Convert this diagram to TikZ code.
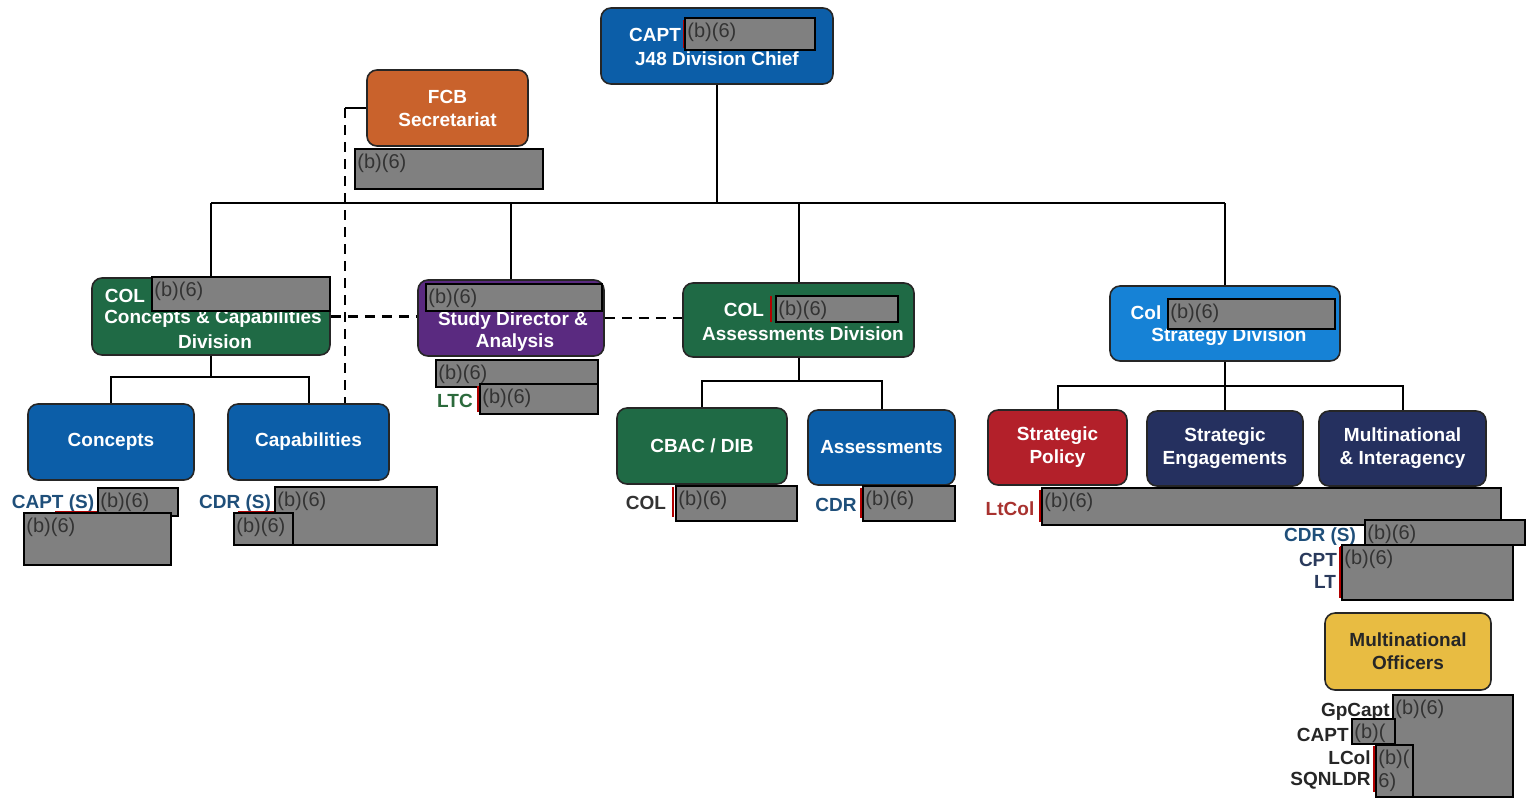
\documentclass[tikz,border=0pt]{standalone}
\usepackage{fontspec}
\setmainfont{Liberation Sans}
\usetikzlibrary{calc}
\definecolor{cblue}{HTML}{0C5EA8}
\definecolor{clblue}{HTML}{1682D6}
\definecolor{cgreen}{HTML}{1F6A45}
\definecolor{cpurple}{HTML}{5A2A80}
\definecolor{corange}{HTML}{C9622C}
\definecolor{cred}{HTML}{B3202A}
\definecolor{cnavy}{HTML}{25305F}
\definecolor{cyellow}{HTML}{E8BC42}
\definecolor{rgray}{HTML}{808080}
\definecolor{lblue}{HTML}{1F4F7A}
\definecolor{lred}{HTML}{A8322F}
\definecolor{lgreen}{HTML}{2C6A3C}
\definecolor{lnavy}{HTML}{2A3A5C}
\tikzset{
 orgbox/.style={draw=black!85, line width=0.8pt, rounded corners=5pt, text=white, font=\bfseries\fontsize{9.5}{11.5}\selectfont, align=center, inner sep=0pt},
 boxtxt/.style={text=white, font=\bfseries\fontsize{9.5}{11.5}\selectfont, inner sep=0pt},
 lbl/.style={font=\bfseries\fontsize{9.5}{11.5}\selectfont, inner sep=0pt, yshift=-1.5pt},
 redfill/.style={fill=rgray, draw=black, line width=0.8pt},
 redtxt/.style={font=\fontsize{10}{11.5}\selectfont, text=black!80, inner sep=1pt, anchor=north west, align=left, yshift=-1.5pt},
 redmark/.style={draw=red!70!black, line width=0.7pt},
 conn/.style={line width=1pt, draw=black},
 dashline/.style={line width=1.2pt, draw=black, dash pattern=on 5pt off 3.5pt},
}
\newcommand{\rdx}[6]{\draw[redfill] (#1,#2) rectangle (#3,#4); \node[redtxt] (#5) at (#1,#2) {#6};}
\begin{document}
\begin{tikzpicture}[x=0.5pt,y=-0.5pt]
\useasboundingbox (0,0) rectangle (1535,799);
\fill[white] (0,0) rectangle (1535,799);
% coordinates
\coordinate (bus) at (0,203);
\coordinate (dashx) at (345,0);
% ---- boxes ----
\node[orgbox, fill=cblue, minimum width=116pt, minimum height=38pt] (chief) at (717,46) {};
\node[orgbox, fill=corange, minimum width=80.5pt, minimum height=38pt] (fcb) at (447.5,108) {FCB\\Secretariat};
\node[orgbox, fill=cgreen, minimum width=119pt, minimum height=38.5pt] (ccdiv) at (211,316.5) {};
\node[orgbox, fill=cpurple, minimum width=93pt, minimum height=38pt] (study) at (511,318) {};
\node[orgbox, fill=cgreen, minimum width=115.5pt, minimum height=37pt] (assess) at (798.5,320) {};
\node[orgbox, fill=clblue, minimum width=115pt, minimum height=37.5pt] (strat) at (1225,323.5) {};
\node[orgbox, fill=cblue, minimum width=83pt, minimum height=38pt] (concepts) at (111,442) {Concepts};
\node[orgbox, fill=cblue, minimum width=80.5pt, minimum height=38pt] (capab) at (308.5,442) {Capabilities};
\node[orgbox, fill=cgreen, minimum width=85pt, minimum height=38pt] (cbac) at (702,446) {CBAC / DIB};
\node[orgbox, fill=cblue, minimum width=73.5pt, minimum height=37.5pt] (assm) at (881.5,447.5) {Assessments};
\node[orgbox, fill=cred, minimum width=69.5pt, minimum height=37.5pt] (spol) at (1057.5,447.5) {Strategic\\Policy};
\node[orgbox, fill=cnavy, minimum width=78pt, minimum height=37.5pt] (seng) at (1225,448.5) {Strategic\\Engagements};
\node[orgbox, fill=cnavy, minimum width=83.5pt, minimum height=37.5pt] (mi) at (1402.5,448.5) {Multinational\\\& Interagency};
\node[orgbox, fill=cyellow, text=black!85, minimum width=83pt, minimum height=38.5pt] (mno) at (1408,651.5) {Multinational\\Officers};
% ---- connectors ----
\draw[conn] (chief.south) -- (chief.south |- bus);
\draw[conn] ($(fcb.east)+(0,7)$) -- ($(fcb.east)+(0,7)$ -| chief.south);
\draw[conn] (ccdiv.north |- bus) -- (strat.north |- bus);
\draw[conn] (ccdiv.north) -- (ccdiv.north |- bus);
\draw[conn] (study.north) -- (study.north |- bus);
\draw[conn] (assess.north) -- (assess.north |- bus);
\draw[conn] (strat.north) -- (strat.north |- bus);
\draw[conn] (ccdiv.south) -- ++(0,21) -| (concepts.north);
\draw[conn] (ccdiv.south) ++(0,21) -| (capab.north);
\draw[conn] (assess.south) -- ++(0,23) -| (cbac.north);
\draw[conn] (assess.south) ++(0,23) -| (assm.north);
\draw[conn] (strat.south) -- ++(0,24) -| (spol.north);
\draw[conn] (strat.south) ++(0,24) -| (mi.north);
\draw[conn] (seng.north) -- ++(0,-25);
\draw[conn] (fcb.west) -- (fcb.west -| dashx);
\draw[dashline] (fcb.west -| dashx) -- (dashx |- capab.north);
\draw[dashline] (ccdiv.east) -- (ccdiv.east -| study.west);
\draw[dashline] (study.east) -- (study.east -| assess.west);
% ---- texts inside boxes ----
\node[boxtxt] (chiefrank) at (655,35) {CAPT};
\node[boxtxt] (chieftitle) at (717,59) {J48 Division Chief};
\node[boxtxt] (ccrank) at (125,296) {COL};
\node[boxtxt] (cct1) at (213,319) {Concepts \& Capabilities};
\node[boxtxt] (cct2) at (215,342) {Division};
\node[boxtxt] (sdt1) at (513,321) {Study Director \&};
\node[boxtxt] (sdt2) at (515,343) {Analysis};
\node[boxtxt] (adrank) at (744,310) {COL};
\node[boxtxt] (adt) at (803,334) {Assessments Division};
\node[boxtxt] (sdrank) at (1146,313) {Col};
\node[boxtxt] (sdvt) at (1229,337) {Strategy Division};
% ---- redactions ----
\draw[redmark] (684,20) -- (684,48);
\rdx{685}{18}{815}{50}{rchief}{(b)(6)}
\rdx{355}{149}{543}{189}{rfcb}{(b)(6)}
\rdx{152}{277}{330}{311}{rcc}{(b)(6)}
\rdx{426}{284}{602}{311}{rsd}{(b)(6)}
\draw[redmark] (771,296) -- (771,322);
\rdx{776}{296}{898}{322}{rad}{(b)(6)}
\draw[redmark] (1168,299) -- (1335,299);
\rdx{1168}{299}{1335}{329}{rstr}{(b)(6)}
% Concepts / Capabilities
\node[lbl, text=lblue] (capts) at (53,501) {CAPT (S)};
\draw[redmark] (55,512) -- (98,512) -- (98,488);
\rdx{98}{488}{178}{516}{rc1}{(b)(6)}
\rdx{24}{513}{171}{565}{rc2}{(b)(6)}
\node[lbl, text=lblue] (cdrs) at (235,501) {CDR (S)};
\draw[redmark] (238,512) -- (275,512) -- (275,488);
\rdx{275}{487}{437}{545}{rk1}{(b)(6)}
\rdx{234}{513}{293}{545}{rk2}{(b)(6)}
% Study Director
\rdx{436}{360}{598}{387}{rs1}{(b)(6)}
\node[lbl, text=lgreen] (ltc) at (455,398) {LTC};
\draw[redmark] (478,386) -- (478,412);
\rdx{480}{384}{598}{414}{rs2}{(b)(6)}
% CBAC / Assessments
\node[lbl, text=black!80] (cbcol) at (646,500) {COL};
\draw[redmark] (673,487) -- (673,517);
\rdx{676}{486}{797}{521}{rb1}{(b)(6)}
\node[lbl, text=lblue] (ascdr) at (836,502) {CDR};
\draw[redmark] (861,488) -- (861,518);
\rdx{863}{486}{955}{521}{ra1}{(b)(6)}
% Strategy subunits
\node[lbl, text=lred] (ltcol) at (1010,506) {LtCol};
\draw[redmark] (1040,490) -- (1040,522);
\rdx{1042}{488}{1501}{525}{rp1}{(b)(6)}
\node[lbl, text=lblue] (micdr) at (1320,534) {CDR (S)};
\rdx{1365}{520}{1525}{545}{rp2}{(b)(6)}
\node[lbl, text=lnavy] (micpt) at (1318,557) {CPT};
\node[lbl, text=lnavy] (milt) at (1325,579) {LT};
\draw[redmark] (1340,547) -- (1365,547);
\draw[redmark] (1340,547) -- (1340,598);
\rdx{1342}{545}{1513}{600}{rp3}{(b)(6)}
% Multinational officers
\node[lbl, text=black!85, anchor=east] (gpcapt) at (1390,709) {GpCapt};
\node[lbl, text=black!85, anchor=east] (mocapt) at (1349,732) {CAPT};
\node[lbl, text=black!85, anchor=east] (molcol) at (1371,755) {LCol};
\node[lbl, text=black!85, anchor=east] (mosqn) at (1371,778) {SQNLDR};
\draw[redmark] (1352,719) -- (1393,719);
\draw[redmark] (1374,746) -- (1374,792);
\rdx{1393}{695}{1513}{797}{rm1}{(b)(6)}
\rdx{1352}{719}{1395}{744}{rm2}{(b)(}
\rdx{1376}{745}{1413}{797}{rm3}{(b)(\\6)}
\end{tikzpicture}
\end{document}
